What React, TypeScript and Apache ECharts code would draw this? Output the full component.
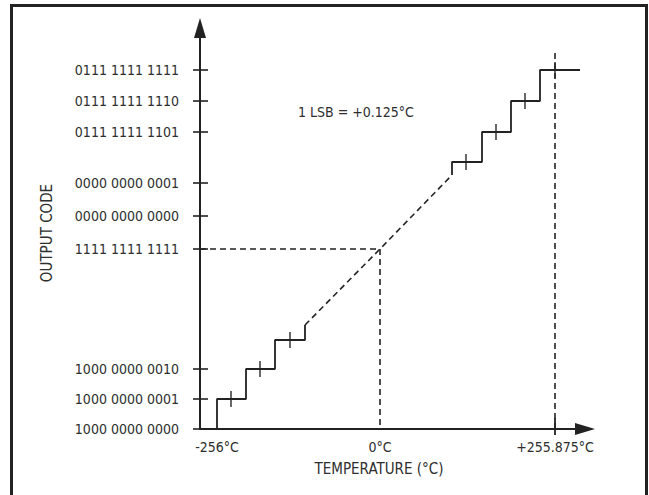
import React, { useEffect, useRef } from 'react';
import * as echarts from 'echarts';

// Schematic diagram units (the original figure has broken axes, so positions are diagram units).
const yTickValues = [0, 30, 60, 180, 213, 246, 297, 328, 359];
const yTickLabels = [
  '1000 0000 0000',
  '1000 0000 0001',
  '1000 0000 0010',
  '1111 1111 1111',
  '0000 0000 0000',
  '0000 0000 0001',
  '0111 1111 1101',
  '0111 1111 1110',
  '0111 1111 1111',
];
const xLabelValues = [17, 180, 355];
const xLabels = ['-256°C', '0°C', '+255.875°C'];
const xEndTick = [355];

const lowerSteps = [[17, 0], [17, 30], [46, 30], [46, 60], [75, 60], [75, 89], [105, 89], [105, 104]];
const upperSteps = [[252, 254], [252, 267], [282, 267], [282, 297], [311, 297], [311, 328], [340, 328], [340, 359], [380, 359]];
const transitionLine = [[105, 104], [180, 180], [252, 254]];
const zeroCodeGuide = [[0, 180], [180, 180], [180, 0]];
const fullScaleGuide = [[355, 0], [355, 376]];
const lsbMarks = [[31, 30], [60, 60], [90, 89], [266, 267], [296, 297], [325, 328], [355, 359]];

const FONT = "'Liberation Sans Narrow', 'DejaVu Sans Condensed', sans-serif";
const INK = '#222';
const TEXT = '#2e2e2e';

export default function App() {
  const ref = useRef<HTMLDivElement>(null);
  useEffect(() => {
    if (!ref.current) return;
    const chart = echarts.init(ref.current, undefined, { renderer: 'svg' });
    const solid = (data: number[][]) => ({
      type: 'line', data, symbol: 'none', showSymbol: false, silent: true,
      lineStyle: { color: INK, width: 1.8, type: 'solid' },
    });
    const dashed = (data: number[][]) => ({
      type: 'line', data, symbol: 'none', showSymbol: false, silent: true,
      lineStyle: { color: INK, width: 1.6, type: [6, 4] },
    });
    chart.setOption({
      animation: false,
      backgroundColor: '#fff',
      grid: { left: 200, right: 64, top: 28, bottom: 66 },
      xAxis: [
        {
          type: 'value', min: 0, max: 385, position: 'bottom',
          axisLine: { show: true, onZero: false, symbol: ['none', 'triangle'], symbolSize: [12, 20], lineStyle: { color: INK, width: 2 } },
          axisTick: { show: true, inside: false, length: 6, customValues: xEndTick, lineStyle: { color: INK, width: 1.8 } },
          axisLabel: {
            customValues: xLabelValues,
            formatter: (v: number) => xLabels[xLabelValues.indexOf(v)] ?? '',
            margin: 11, color: TEXT, fontFamily: FONT, fontSize: 14,
          },
          splitLine: { show: false },
        },
        {
          type: 'value', min: 0, max: 385, position: 'bottom',
          axisLine: { show: false },
          axisTick: { show: true, inside: true, length: 11, customValues: xEndTick, lineStyle: { color: INK, width: 1.8 } },
          axisLabel: { show: false },
          splitLine: { show: false },
        },
      ],
      yAxis: [
        {
          type: 'value', min: 0, max: 401, position: 'left',
          axisLine: { show: true, onZero: false, symbol: ['none', 'triangle'], symbolSize: [12, 20], lineStyle: { color: INK, width: 2 } },
          axisTick: { show: true, inside: false, length: 7, customValues: yTickValues, lineStyle: { color: INK, width: 1.6 } },
          axisLabel: {
            customValues: yTickValues,
            formatter: (v: number) => yTickLabels[yTickValues.indexOf(v)] ?? '',
            margin: 21, color: TEXT, fontFamily: FONT, fontSize: 14,
          },
          splitLine: { show: false },
        },
        {
          type: 'value', min: 0, max: 401, position: 'left',
          axisLine: { show: false },
          axisTick: { show: true, inside: true, length: 8, customValues: yTickValues, lineStyle: { color: INK, width: 1.6 } },
          axisLabel: { show: false },
          splitLine: { show: false },
        },
      ],
      graphic: [
        { type: 'rect', shape: { x: 11.5, y: 5.5, width: 635, height: 600 }, style: { fill: 'none', stroke: INK, lineWidth: 3 }, silent: true },
        { type: 'text', x: 47, y: 233, rotation: Math.PI / 2, style: { text: 'OUTPUT CODE', fill: TEXT, fontFamily: FONT, fontSize: 15, align: 'center', verticalAlign: 'middle' } },
        { type: 'text', x: 379, y: 469, style: { text: 'TEMPERATURE (°C)', fill: TEXT, fontFamily: FONT, fontSize: 15, align: 'center', verticalAlign: 'middle' } },
        { type: 'text', x: 298, y: 112, style: { text: '1 LSB = +0.125°C', fill: TEXT, fontFamily: FONT, fontSize: 14, align: 'left', verticalAlign: 'middle' } },
      ],
      series: [
        solid(lowerSteps),
        solid(upperSteps),
        dashed(transitionLine),
        dashed(zeroCodeGuide),
        dashed(fullScaleGuide),
        {
          type: 'scatter', data: lsbMarks, symbol: 'rect', symbolSize: [1.7, 16], silent: true,
          itemStyle: { color: INK },
        },
      ],
    });
    return () => chart.dispose();
  }, []);
  return <div ref={ref} style={{ position: 'absolute', left: 0, top: 0, width: 649, height: 495 }} />;
}
